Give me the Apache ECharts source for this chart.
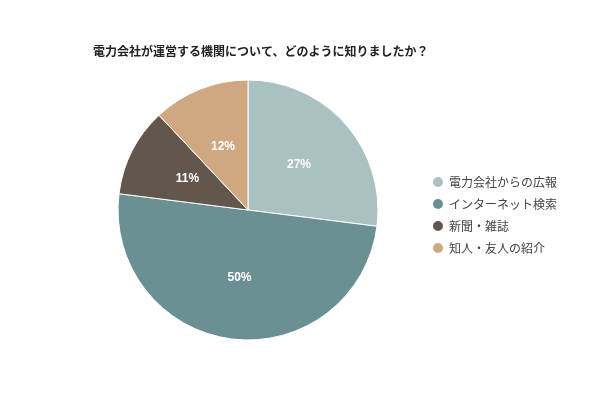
<!DOCTYPE html>
<html><head><meta charset="utf-8">
<script src="https://cdn.jsdelivr.net/npm/echarts@6/dist/echarts.min.js"></script>
<style>body{margin:0;background:#fff}#c{width:600px;height:400px}</style>
</head><body><div id="c"></div>
<script>
var titleText = '電力会社が運営する機関について、どのように知りましたか？';
var categories = ['電力会社からの広報', 'インターネット検索', '新聞・雑誌', '知人・友人の紹介'];
var values = [27, 50, 11, 12];
var colors = ['#a9c1c1', '#6b9094', '#63574d', '#cfa882'];

var chart = echarts.init(document.getElementById('c'));
chart.setOption({
    title: {
        text: titleText, left: 88, top: 40,
        textStyle: { fontSize: 12, fontWeight: 'bold', color: '#222', fontFamily: 'Noto Sans CJK JP' }
    },
    legend: {
        orient: 'vertical', left: 426, top: 170, icon: 'circle', itemWidth: 12, itemHeight: 12, itemGap: 8,
        textStyle: { fontSize: 12, color: '#444', fontFamily: 'Noto Sans CJK JP' },
        data: categories
    },
    series: [{
        type: 'pie', center: [248, 210], radius: 130, startAngle: 90, clockwise: true,
        itemStyle: { borderColor: '#fff', borderWidth: 1 },
        label: {
            position: 'inside', formatter: '{c}%', color: '#fff', fontWeight: 'bold', fontSize: 12,
            fontFamily: 'Arial'
        },
        labelLine: { show: false },
        data: categories.map(function (n, i) {
            return { name: n, value: values[i], itemStyle: { color: colors[i] } };
        })
    }]
});
</script></body></html>
